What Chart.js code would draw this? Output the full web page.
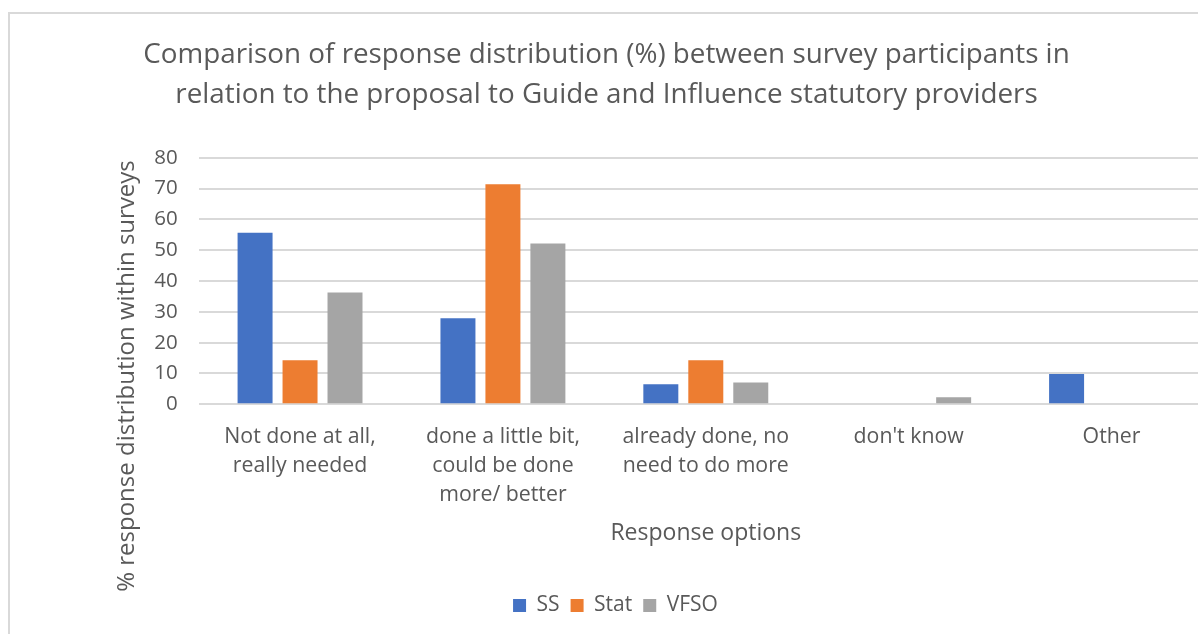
<!DOCTYPE html>
<html>
<head>
<meta charset="utf-8">
<script src="https://cdn.jsdelivr.net/npm/chart.js@4/dist/chart.umd.min.js"></script>
<style>
  html, body { margin: 0; padding: 0; background: #ffffff; overflow: hidden; width: 1198px; height: 634px; }
  #frame { position: absolute; left: 8px; top: 12px; width: 1400px; height: 800px; border-left: 2px solid #d9d9d9; border-top: 2px solid #d9d9d9; }
  #wrap { position: absolute; left: 0; top: 0; width: 1213px; height: 634px; }
</style>
</head>
<body>
<div id="frame"></div>
<div id="wrap"><canvas id="chart"></canvas></div>
<script>
// Response options (x-axis categories, one array of lines per label)
const categories = [
  ['Not done at all,', 'really needed'],
  ['done a little bit,', 'could be done', 'more/ better'],
  ['already done, no', 'need to do more'],
  ["don't know"],
  ['Other']
];

// % of responses per survey group
const ssValues   = [55.7, 27.9, 6.5, 0, 9.8];
const statValues = [14.3, 71.4, 14.3, 0, 0];
const vfsoValues = [36.3, 52.2, 7.1, 2.3, 0];

const seriesNames = ['SS', 'Stat', 'VFSO'];
const yTicks = [0, 10, 20, 30, 40, 50, 60, 70, 80];

const titleLines = [
  'Comparison of response distribution (%) between survey participants in',
  'relation to the proposal to Guide and Influence statutory providers'
];
const yTitle = '% response distribution within surveys';
const xTitle = 'Response options';

const FONT = "'Open Sans', sans-serif";
const TEXT = '#595959';
const GRID = '#d9d9d9';
const colors = ['#4472C4', '#ED7D31', '#A5A5A5'];

// Vertical axis title, centred on the whole left band of the chart
const yTitlePlugin = {
  id: 'yTitle',
  afterDraw(chart) {
    const ctx = chart.ctx;
    ctx.save();
    ctx.translate(127, 376);
    ctx.rotate(-Math.PI / 2);
    ctx.fillStyle = TEXT;
    ctx.font = "24px 'Open Sans', sans-serif";
    ctx.textAlign = 'center';
    ctx.textBaseline = 'middle';
    ctx.fillText(yTitle, 0, 0);
    ctx.restore();
  }
};

// Nudge the legend row to the right of the canvas centre
const legendShift = {
  id: 'legendShift',
  afterLayout(chart) {
    if (chart.legend) {
      chart.legend.left += 9;
      chart.legend.right += 9;
    }
  }
};

new Chart(document.getElementById('chart'), {
  type: 'bar',
  data: {
    labels: categories,
    datasets: [ssValues, statValues, vfsoValues].map((vals, i) => ({
      label: seriesNames[i],
      data: vals,
      backgroundColor: colors[i],
      borderWidth: 0,
      categoryPercentage: 0.665,
      barPercentage: 0.778
    }))
  },
  plugins: [yTitlePlugin, legendShift],
  options: {
    responsive: true,
    maintainAspectRatio: false,
    animation: false,
    layout: { padding: { top: 15, bottom: 8, left: 0, right: 0 } },
    plugins: {
      tooltip: { enabled: false },
      title: {
        display: true,
        text: titleLines,
        color: TEXT,
        font: { family: FONT, size: 27.8, weight: 'normal', lineHeight: 1.44 },
        padding: { top: 20, bottom: 42.7 }
      },
      legend: {
        position: 'bottom',
        labels: {
          color: TEXT,
          font: { family: FONT, size: 21 },
          boxWidth: 13,
          boxHeight: 13,
          padding: 11
        }
      }
    },
    scales: {
      x: {
        grid: { display: false, drawTicks: false },
        border: { display: false },
        ticks: {
          color: TEXT,
          font: { family: FONT, size: 21.3, lineHeight: 1.36 },
          padding: 18,
          maxRotation: 0,
          autoSkip: false
        },
        title: {
          display: true,
          text: xTitle,
          color: TEXT,
          font: { family: FONT, size: 23, lineHeight: 1.2 },
          padding: { top: 0, bottom: 37 }
        },
        afterFit: (scale) => { scale.height = 179.7; }
      },
      y: {
        min: 0,
        max: 80,
        afterBuildTicks: (scale) => { scale.ticks = yTicks.map(v => ({ value: v })); },
        grid: { color: GRID, lineWidth: 2, drawTicks: false },
        border: { display: false },
        ticks: {
          color: TEXT,
          font: { family: FONT, size: 20.5 },
          padding: 21
        },
        title: { display: false },
        afterFit: (scale) => { scale.width = 198.6; }
      }
    }
  }
});
</script>
</body>
</html>
